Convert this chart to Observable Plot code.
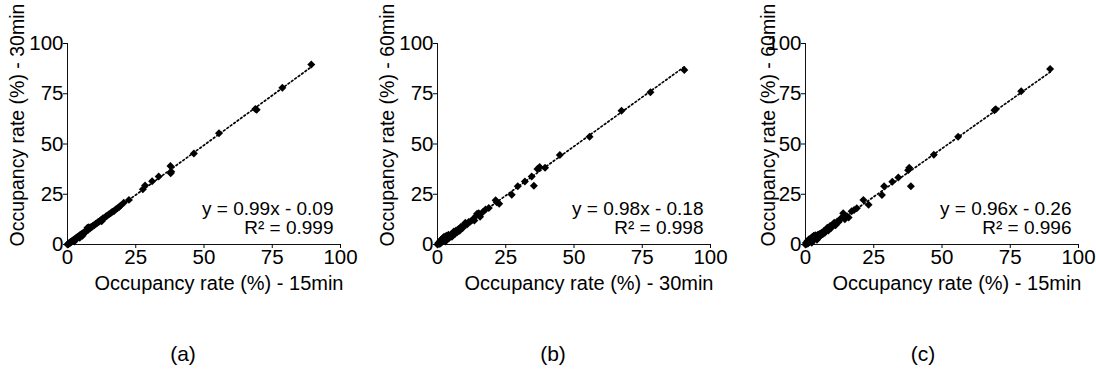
<!DOCTYPE html>
<html>
<head>
<meta charset="utf-8">
<script src="https://cdn.jsdelivr.net/npm/d3@7"></script>
<script src="https://cdn.jsdelivr.net/npm/@observablehq/plot@0.6"></script>
<style>
  body { margin: 0; background: #fff; font-family: "Liberation Sans", Arial, sans-serif; }
  #wrap { position: relative; width: 1096px; height: 378px; overflow: hidden; background: #fff; }
  .panel { position: absolute; top: 0; }
  .cap { position: absolute; top: 342px; font-size: 21px; transform: translateX(-50%); color: #000; }
</style>
</head>
<body>
<div id="wrap"></div>
<script>
// ---- data ----
const tickValues = [0, 25, 50, 75, 100];
const panelIds = ["(a)", "(b)", "(c)"];
const xLabels = ["Occupancy rate (%) - 15min", "Occupancy rate (%) - 30min", "Occupancy rate (%) - 15min"];
const yLabels = ["Occupancy rate (%) - 30min", "Occupancy rate (%) - 60min", "Occupancy rate (%) - 60min"];
const slopes = [0.99, 0.98, 0.96];
const intercepts = [-0.09, -0.18, -0.26];
const eqTexts = ["y = 0.99x - 0.09", "y = 0.98x - 0.18", "y = 0.96x - 0.26"];
const r2Texts = ["R² = 0.999", "R² = 0.998", "R² = 0.996"];

// panel (a): x = 15min, y = 30min
const pointsA = [
  [0,0],[0.2,0.3],[0.4,0.3],[0.6,0.7],[0.8,0.6],[1.0,1.1],[1.2,1.0],[1.4,1.5],[1.7,1.6],[1.9,2.0],
  [2.2,2.0],[2.4,2.5],[2.5,1.5],[2.7,2.5],[3.0,3.1],[3.2,2.9],[3.5,3.6],[3.8,3.5],[4.0,4.1],[4.3,4.0],
  [4.5,3.4],[4.6,4.7],[4.9,4.6],[5.1,5.2],[5.4,5.0],[5.5,4.3],[5.8,5.9],[6.1,5.8],[6.4,6.5],[6.8,6.5],
  [7.1,7.2],[7.3,8.3],[7.5,7.2],[7.8,8.6],[8.2,7.9],[8.6,8.7],[9.0,8.8],[9.4,9.5],[9.8,9.6],[10.3,10.3],
  [10.7,10.4],[11.2,11.2],[11.7,11.4],[12.1,12.1],[12.5,11.6],[12.6,12.3],[13.0,13.0],[13.5,13.2],[14.1,14.0],[14.6,14.4],
  [15.2,15.1],[15.8,15.5],[16.4,16.3],[17.0,16.6],[17.6,17.4],[18.3,18.0],[18.9,18.7],[19.4,19.3],
  [20.6,20.8],[22.5,22.2],[27.6,27.5],[28.4,29.3],[31.0,31.5],[33.4,33.8],[37.7,39.0],[38.0,36.2],[37.8,35.4],
  [46.3,45.3],[55.5,55.3],[68.8,67.4],[69.3,67.1],[78.7,78.0],[89.3,89.6]
];
// panel (b): x = 30min, y = 60min
const pointsB = [
  [0,0],[0.3,0.8],[0.6,0.2],[0.9,1.6],[1.1,0.5],[1.3,2.4],[1.6,1.2],[1.9,3.1],[2.1,1.8],[2.4,3.8],
  [2.6,2.4],[2.9,1.5],[3.2,4.3],[3.4,2.9],[3.7,3.6],[4.0,4.9],[4.3,3.2],[4.6,4.1],[4.9,5.0],[5.3,3.9],
  [5.6,5.6],[6.0,6.5],[6.4,5.2],[6.8,7.0],[7.2,6.1],[7.6,7.6],[8.1,6.8],[8.6,8.8],[9.2,8.2],[9.7,9.6],
  [10.2,10.8],[10.8,9.9],[11.4,11.2],[12.1,11.5],[12.8,12.3],[13.5,11.9],[14.0,14.0],[14.5,15.3],[15.1,15.6],[15.6,13.8],
  [16.5,16.1],[17.6,17.4],[18.8,18.1],
  [21.3,22.0],[21.7,21.0],[22.6,20.3],[27.2,24.8],[29.4,29.0],[32.0,31.3],[34.5,33.8],[35.3,29.2],[36.6,37.6],
  [37.4,38.5],[39.4,38.2],[44.8,44.5],[55.7,53.6],[67.4,66.5],[78.0,75.7],[90.4,86.8]
];
// panel (c): x = 15min, y = 60min
const pointsC = [
  [0,0],[0.2,0.9],[0.5,0.3],[0.7,1.7],[1.0,0.6],[1.2,2.5],[1.5,1.2],[1.8,3.0],[2.1,1.8],[2.3,0.9],
  [2.5,3.7],[2.8,2.4],[3.0,4.3],[3.3,3.0],[3.6,4.6],[3.9,3.5],[4.2,2.4],[4.5,4.8],[4.8,3.6],[5.1,5.2],
  [5.5,4.4],[5.9,5.9],[6.3,5.1],[6.7,6.7],[7.1,5.9],[7.5,7.4],[8.0,8.3],[8.4,7.0],[9.0,9.2],[9.5,8.3],
  [10.0,10.0],[10.5,10.8],[11.0,9.6],[11.6,11.5],[12.2,11.3],[13.0,13.1],[13.8,15.6],[14.4,12.6],[15.2,14.0],[15.8,13.4],
  [16.9,16.6],[17.8,17.2],[18.8,18.0],
  [21.2,22.2],[23.1,19.8],[28.0,24.6],[28.8,29.0],[31.8,31.2],[34.0,33.3],[37.6,37.0],[38.0,38.2],[38.6,29.0],
  [47.0,44.6],[55.9,53.6],[69.2,66.8],[69.7,67.3],[79.0,76.2],[89.6,87.3]
];

const allPoints = [pointsA, pointsB, pointsC];
const panelLeft = [0, 370, 738];
const yLabelDx = [-50, -50, -37];
const captionX = [183, 553, 923];

const FONT = "'Liberation Sans', Arial, Helvetica, sans-serif";

function makePanel(i) {
  const data = allPoints[i].map(([x, y]) => ({x, y}));
  const ext = d3.extent(data, d => d.x);
  const fit = ext.map(x => ({x, y: slopes[i] * x + intercepts[i]}));
  return Plot.plot({
    width: 366, height: 300,
    marginLeft: 67, marginRight: 26, marginTop: 43, marginBottom: 56,
    x: {domain: [0, 100]},
    y: {domain: [0, 100]},
    style: {fontFamily: FONT, fontSize: "20px", color: "#000", background: "transparent", overflow: "visible"},
    marks: [
      Plot.ruleX([0], {stroke: "#111", strokeWidth: 1}),
      Plot.ruleY([0], {stroke: "#111", strokeWidth: 1}),
      Plot.axisX({ticks: tickValues, tickSize: 4, tickPadding: 1, label: null, fontSize: 20.5, tickFormat: d => String(d)}),
      Plot.axisY({ticks: tickValues, tickSize: 4, tickPadding: 0, label: null, fontSize: 20.5, tickFormat: d => String(d)}),
      Plot.line(fit, {x: "x", y: "y", stroke: "#000", strokeWidth: 1.7, strokeDasharray: "1.7,2.5"}),
      Plot.dot(data, {x: "x", y: "y", symbol: "diamond2", r: 3.6, fill: "#000", stroke: "none"}),
      Plot.text([eqTexts[i] + "\n" + r2Texts[i]], {text: d => d, frameAnchor: "bottom-right", textAnchor: "end", lineAnchor: "bottom", dx: -7, dy: -11, fontSize: 19, lineHeight: 1.0}),
      Plot.text([yLabels[i]], {text: d => d, frameAnchor: "left", rotate: -90, dx: yLabelDx[i], dy: -19, fontSize: 19.5, lineAnchor: "middle", textAnchor: "middle"}),
      Plot.text([xLabels[i]], {text: d => d, frameAnchor: "bottom", dx: 15, dy: 45, lineAnchor: "bottom", fontSize: 20})
    ]
  });
}

const wrap = document.getElementById("wrap");
for (let i = 0; i < 3; i++) {
  const svg = makePanel(i);
  svg.classList.add("panel");
  svg.style.left = panelLeft[i] + "px";
  svg.style.position = "absolute";
  wrap.appendChild(svg);
  const cap = document.createElement("div");
  cap.className = "cap";
  cap.style.left = captionX[i] + "px";
  cap.textContent = panelIds[i];
  wrap.appendChild(cap);
}
</script>
</body>
</html>
